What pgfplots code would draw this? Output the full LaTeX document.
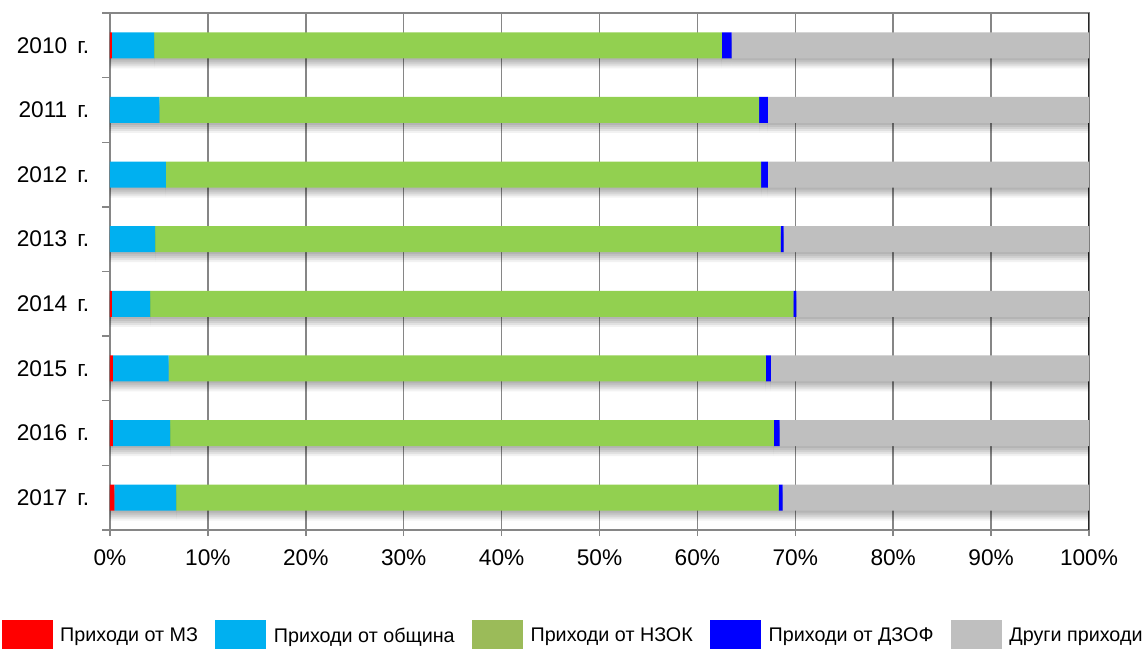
\documentclass[border=0pt]{standalone}
\usepackage{pgfplots}
\pgfplotsset{compat=1.18}
\usepackage{fontspec}
\setmainfont{Liberation Sans}
\usetikzlibrary{shadows}
\definecolor{cMZ}{HTML}{FF0000}
\definecolor{cObs}{HTML}{00B0F0}
\definecolor{cNZOK}{HTML}{92D050}
\definecolor{cNZOKleg}{HTML}{9BBB59}
\definecolor{cDZOF}{HTML}{0000FF}
\definecolor{cOther}{HTML}{BFBFBF}
\definecolor{cGrid}{HTML}{868686}
\tikzset{myshadow/.style={
  general shadow={fill=black,opacity=0.07,shadow yshift=-1.5pt},
  general shadow={fill=black,opacity=0.07,shadow yshift=-3pt},
  general shadow={fill=black,opacity=0.07,shadow yshift=-4.5pt},
  general shadow={fill=black,opacity=0.07,shadow yshift=-6pt},
  general shadow={fill=black,opacity=0.05,shadow yshift=-7.5pt}}}
\newcommand{\legsq}[2]{\path (-#2,0pt); \fill[#1] (0pt,-11.5pt) rectangle (37.5pt,11.5pt); \path (43.5pt,0pt);}
\begin{document}
\begin{tikzpicture}
\useasboundingbox (-82.5pt,-89.25pt) rectangle (777.75pt,397.5pt);
\begin{axis}[
  at={(0pt,0pt)}, anchor=south west,
  scale only axis, width=734.25pt, height=387.75pt,
  xbar stacked, bar width=19.5pt,
  xmin=0, xmax=100, ymin=-0.5, ymax=7.5, y dir=reverse,
  xtick={0,10,...,100},
  xticklabels={0\%,10\%,20\%,30\%,40\%,50\%,60\%,70\%,80\%,90\%,100\%},
  ytick={0,...,7},
  yticklabels={2010\hspace{0.45em}г.,2011\hspace{0.45em}г.,2012\hspace{0.45em}г.,2013\hspace{0.45em}г.,2014\hspace{0.45em}г.,2015\hspace{0.45em}г.,2016\hspace{0.45em}г.,2017\hspace{0.45em}г.},
  minor ytick={-0.5,0.5,...,7.5},
  tick pos=left,
  tick align=outside,
  major tick length=4.5pt, minor tick length=6pt,
  ytick style={draw=none},
  xtick style={draw=cGrid, line width=1.1pt},
  minor y tick style={draw=cGrid, line width=1.1pt},
  xmajorgrids, major x grid style={draw=cGrid, line width=1.1pt},
  axis line style={draw=cGrid, line width=1.1pt},
  xticklabel style={font=\fontsize{17}{20}\selectfont, yshift=-6.5pt},
  yticklabel style={font=\fontsize{17}{20}\selectfont, xshift=-7.5pt},
  legend style={at={(0.472,-0.205)}, anchor=center, draw=none, fill=none,
    legend columns=5, inner sep=0pt, outer sep=0pt,
    nodes={inner sep=0pt, outer sep=0pt},
    font=\fontsize{14.8}{18}\selectfont,
    /tikz/column sep=0pt},
]
\addlegendimage{legend image code/.code={\legsq{cMZ}{0pt}}}
\addlegendentry{Приходи от МЗ}
\addlegendimage{legend image code/.code={\legsq{cObs}{13pt}}}
\addlegendentry{Приходи от община}
\addlegendimage{legend image code/.code={\legsq{cNZOKleg}{13pt}}}
\addlegendentry{Приходи от НЗОК}
\addlegendimage{legend image code/.code={\legsq{cDZOF}{13pt}}}
\addlegendentry{Приходи от ДЗОФ}
\addlegendimage{legend image code/.code={\legsq{cOther}{13pt}}}
\addlegendentry{Други приходи}

\addplot[fill=cMZ, draw=none, myshadow] coordinates
 {(0.2,0) (0,1) (0,2) (0,3) (0.2,4) (0.3,5) (0.3,6) (0.45,7)};
\addplot[fill=cObs, draw=none, myshadow] coordinates
 {(4.3,0) (5.05,1) (5.7,2) (4.6,3) (3.9,4) (5.7,5) (5.85,6) (6.3,7)};
\addplot[fill=cNZOK, draw=none, myshadow] coordinates
 {(58.0,0) (61.25,1) (60.8,2) (63.9,3) (65.7,4) (61.0,5) (61.65,6) (61.55,7)};
\addplot[fill=cDZOF, draw=none, myshadow] coordinates
 {(1.0,0) (0.9,1) (0.7,2) (0.3,3) (0.3,4) (0.5,5) (0.6,6) (0.4,7)};
\addplot[fill=cOther, draw=none, myshadow] coordinates
 {(36.5,0) (32.8,1) (32.8,2) (31.2,3) (29.9,4) (32.5,5) (31.6,6) (31.3,7)};
\draw[black!85, line width=1.1pt] (rel axis cs:1,0) -- (rel axis cs:1,1);
\end{axis}
\end{tikzpicture}
\end{document}
